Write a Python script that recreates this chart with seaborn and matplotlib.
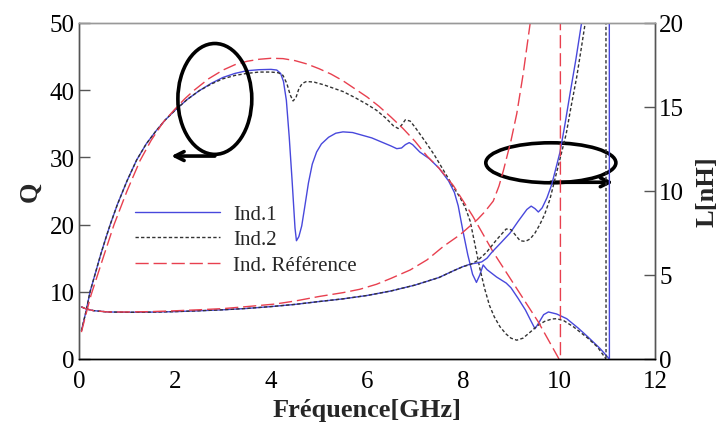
import matplotlib
matplotlib.use("Agg")
import matplotlib.pyplot as plt
from matplotlib.patches import Ellipse
import seaborn as sns

# ---------------- data ----------------
# Q factor (left axis)
f_q1 = [0.05, 0.15, 0.23, 0.35, 0.45, 0.55, 0.65, 0.8, 1.0, 1.2, 1.4, 1.6, 1.8, 2.0, 2.25, 2.5,
        2.75, 3.0, 3.25, 3.5, 3.75, 4.0, 4.12, 4.2, 4.26, 4.32, 4.38, 4.44, 4.5, 4.53, 4.58, 4.64,
        4.7, 4.78, 4.86, 4.95, 5.05, 5.2, 5.35, 5.5, 5.7, 5.9, 6.1, 6.3, 6.5, 6.62, 6.72, 6.8,
        6.88, 6.95, 7.1, 7.3, 7.5, 7.7, 7.82, 7.9, 8.0, 8.1, 8.2, 8.28, 8.35, 8.42, 8.5, 8.7,
        8.9, 9.0, 9.15, 9.3, 9.42, 9.5, 9.58, 9.68, 9.78, 9.95, 10.16, 10.4, 10.6, 10.85, 11.05]
q1 = [4.2, 7.2, 10.0, 13.0, 15.5, 17.8, 20.0, 23.0, 26.5, 29.6, 32.0, 33.9, 35.6, 37.0, 38.6, 39.9,
      41.0, 41.9, 42.5, 42.9, 43.05, 43.1, 43.0, 42.5, 41.3, 38.5, 33.0, 26.5, 19.5, 17.6, 18.2, 19.8,
      22.5, 26.2, 29.0, 30.8, 32.0, 33.0, 33.6, 33.8, 33.7, 33.3, 32.9, 32.3, 31.7, 31.3, 31.4, 31.9,
      32.2, 31.9, 30.8, 29.8, 28.4, 26.5, 24.8, 22.8, 19.0, 15.5, 12.6, 11.4, 12.5, 14.0, 13.3, 12.2,
      11.3, 10.6, 9.0, 7.3, 5.6, 4.5, 5.4, 6.6, 7.0, 6.7, 6.0, 4.6, 3.3, 1.6, 0.0]

f_q2 = [0.05, 0.15, 0.23, 0.35, 0.45, 0.55, 0.65, 0.8, 1.0, 1.2, 1.4, 1.6, 1.8, 2.0, 2.25, 2.5,
        2.75, 3.0, 3.25, 3.5, 3.75, 4.0, 4.15, 4.25, 4.33, 4.4, 4.46, 4.52, 4.58, 4.65, 4.74, 4.9,
        5.1, 5.3, 5.5, 5.75, 6.0, 6.2, 6.4, 6.55, 6.65, 6.72, 6.8, 6.9, 7.0, 7.2, 7.4, 7.6, 7.8,
        7.94, 8.05, 8.15, 8.25, 8.35, 8.45, 8.55, 8.65, 8.77, 8.9, 9.0, 9.12, 9.25, 9.4, 9.56,
        9.7, 9.85, 9.95, 10.1, 10.3, 10.6, 10.8, 10.98]
q2 = [4.2, 7.2, 10.0, 13.0, 15.5, 17.8, 20.0, 23.0, 26.5, 29.6, 32.0, 33.9, 35.6, 37.0, 38.6, 39.9,
      40.9, 41.7, 42.2, 42.5, 42.7, 42.7, 42.6, 42.2, 41.0, 39.3, 38.4, 38.9, 40.2, 41.0, 41.3, 41.2,
      40.8, 40.3, 39.8, 38.9, 37.9, 37.0, 35.8, 34.7, 34.3, 34.8, 35.6, 35.4, 34.5, 32.5, 30.4, 28.0, 25.6,
      24.0, 22.5, 20.5, 17.0, 13.5, 10.5, 8.0, 6.3, 4.8, 3.7, 3.1, 2.8, 3.1, 4.0, 5.0,
      5.6, 5.95, 6.0, 5.7, 4.8, 3.1, 1.8, 0.0]

f_qr = [0.05, 0.15, 0.25, 0.5, 0.73, 1.0, 1.27, 1.5, 1.75, 2.0, 2.2, 2.4, 2.7, 3.0, 3.25, 3.5,
        3.75, 4.0, 4.25, 4.5, 4.75, 5.0, 5.25, 5.5, 5.75, 6.0, 6.25, 6.5, 6.75, 7.0, 7.25, 7.5,
        7.8, 8.2, 8.63, 9.1, 9.57, 10.0]
qr = [4.0, 6.8, 9.5, 15.0, 20.0, 25.0, 29.5, 32.5, 35.2, 37.2, 38.7, 40.0, 41.7, 43.0, 43.8, 44.3,
      44.6, 44.75, 44.7, 44.4, 43.9, 43.2, 42.4, 41.4, 40.2, 39.0, 37.6, 36.0, 34.3, 32.4, 30.2, 28.4,
      25.8, 21.3, 15.9, 10.7, 5.5, 0.0]

# Inductance (right axis)
f_l1 = [0.05, 0.15, 0.3, 0.6, 1.0, 1.5, 2.0, 2.5, 3.0, 3.5, 4.0, 4.5, 5.0, 5.5, 6.0, 6.5, 7.0,
        7.5, 7.8, 8.0, 8.15, 8.3, 8.39, 8.5, 8.6, 8.8, 8.98, 9.15, 9.33, 9.42, 9.5, 9.57, 9.65,
        9.75, 9.85, 10.02, 10.12, 10.23, 10.35, 10.47, 10.75, 11.045, 11.055]
l1 = [3.1, 2.98, 2.88, 2.8, 2.78, 2.79, 2.82, 2.87, 2.93, 3.01, 3.12, 3.25, 3.42, 3.58, 3.78, 4.05, 4.4,
      4.85, 5.25, 5.5, 5.65, 5.72, 5.78, 6.0, 6.35, 6.95, 7.5, 8.2, 8.9, 9.1, 8.95, 8.75, 9.0,
      9.6, 10.4, 12.3, 13.9, 15.8, 17.8, 20.0, 26.0, 60.0, -60.0]

f_l2 = [0.05, 0.15, 0.3, 0.6, 1.0, 1.5, 2.0, 2.5, 3.0, 3.5, 4.0, 4.5, 5.0, 5.5, 6.0, 6.5, 7.0,
        7.5, 7.8, 8.0, 8.15, 8.3, 8.49, 8.7, 8.9, 9.0, 9.1, 9.19, 9.3, 9.4, 9.5, 9.6, 9.7, 9.81,
        10.02, 10.15, 10.25, 10.37, 10.47, 10.6, 10.975, 10.985]
l2 = [3.1, 2.98, 2.88, 2.8, 2.78, 2.79, 2.82, 2.87, 2.93, 3.01, 3.12, 3.25, 3.42, 3.58, 3.78, 4.05, 4.4,
      4.85, 5.25, 5.5, 5.62, 5.85, 6.35, 7.1, 7.74, 7.7, 7.35, 7.04, 7.0, 7.15, 7.5, 8.0, 8.6, 9.5,
      11.9, 13.4, 15.0, 16.8, 18.6, 21.0, 60.0, -60.0]

f_lr = [0.05, 0.15, 0.3, 0.6, 1.0, 1.5, 2.0, 2.5, 3.0, 3.5, 4.08, 4.5, 5.0, 5.5, 5.85, 6.2, 6.5,
        6.9, 7.25, 7.59, 7.94, 8.3, 8.45, 8.63, 8.75, 8.84, 9.0, 9.12, 9.25, 9.4, 9.7, 10.025, 10.035]
lr = [3.1, 2.98, 2.88, 2.8, 2.8, 2.82, 2.87, 2.93, 3.0, 3.12, 3.27, 3.45, 3.72, 3.95, 4.15, 4.45, 4.8,
      5.3, 5.9, 6.7, 7.4, 8.3, 8.75, 9.4, 10.3, 11.2, 13.0, 14.6, 16.9, 20.0, 30.0, 80.0, -80.0]

labels = ["Ind.1", "Ind.2", "Ind. Référence"]
x_ticks = [0, 2, 4, 6, 8, 10, 12]
q_ticks = [0, 10, 20, 30, 40, 50]
l_ticks = [0, 5, 10, 15, 20]

# ---------------- style ----------------
sns.set_theme(style="white")
plt.rcParams["font.family"] = ["Liberation Serif", "DejaVu Serif"]
plt.rcParams["xtick.direction"] = "in"
plt.rcParams["ytick.direction"] = "in"

c_blue = "#4848dc"
c_black = "#333333"
c_red = "#e8404f"
ls_blue = "-"
ls_black = (0, (2.4, 1.6))
ls_red = (0, (9.5, 3.5))

fig = plt.figure(figsize=(7.28, 4.39), dpi=100)
ax = fig.add_axes([79 / 728, 1 - 360 / 439, 576 / 728, 336 / 439])
ax2 = ax.twinx()

# Q curves
sns.lineplot(x=f_q1, y=q1, ax=ax, color=c_blue, linestyle=ls_blue, lw=1.0,
             estimator=None, sort=False, label=labels[0])
sns.lineplot(x=f_q2, y=q2, ax=ax, color=c_black, linestyle=ls_black, lw=1.0,
             estimator=None, sort=False, label=labels[1])
sns.lineplot(x=f_qr, y=qr, ax=ax, color=c_red, linestyle=ls_red, lw=1.0,
             estimator=None, sort=False, label=labels[2])

# L curves
sns.lineplot(x=f_l1, y=l1, ax=ax2, color=c_blue, linestyle=ls_blue, lw=1.0,
             estimator=None, sort=False, legend=False)
sns.lineplot(x=f_l2, y=l2, ax=ax2, color=c_black, linestyle=ls_black, lw=1.0,
             estimator=None, sort=False, legend=False)
sns.lineplot(x=f_lr, y=lr, ax=ax2, color=c_red, linestyle=ls_red, lw=1.0,
             estimator=None, sort=False, legend=False)

ax.set_xlim(0, 12)
ax.set_ylim(0, 50)
ax2.set_ylim(0, 20)
ax.set_xticks(x_ticks)
ax.set_yticks(q_ticks)
ax2.set_yticks(l_ticks)

tick_font = 18
ax.tick_params(axis="both", which="major", labelsize=tick_font, length=8, width=1,
               color="#555555", labelcolor="black")
ax.tick_params(axis="x", pad=8)
ax.tick_params(axis="y", pad=3)
ax2.tick_params(axis="y", which="major", labelsize=tick_font, length=8, width=1,
                color="#555555", pad=3, labelcolor="black", direction="in")

for a in (ax, ax2):
    a.spines["left"].set_color("#555555")
    a.spines["right"].set_color("#555555")
    a.spines["top"].set_color("#999999")
    a.spines["bottom"].set_color("black")
    for s in a.spines.values():
        s.set_linewidth(1.0)
        s.set_visible(True)

ax.set_xlabel("Fréquence[GHz]", fontsize=19, fontweight="bold", labelpad=4)
ax.set_ylabel("Q", fontsize=19, fontweight="bold", labelpad=6)
ax2.set_ylabel("L[nH]", fontsize=19, fontweight="bold", labelpad=8)

# legend
ax.legend(loc="upper left", bbox_to_anchor=(0.097, 0.46), frameon=False, fontsize=15,
          handlelength=4.1, handletextpad=0.6, labelspacing=0.28, borderpad=0,
          borderaxespad=0)

# annotations: ellipses with arrows
ax.add_patch(Ellipse((2.83, 38.7), width=1.54, height=16.5, fill=False, lw=2.6,
                     edgecolor="black", zorder=5))
ax.annotate("", xy=(1.92, 30.2), xytext=(2.83, 30.2),
            arrowprops=dict(arrowstyle="->", lw=2.6, color="black", shrinkA=0, shrinkB=0,
                            mutation_scale=16), zorder=5)
ax.add_patch(Ellipse((9.83, 29.2), width=2.71, height=5.95, fill=False, lw=2.6,
                     edgecolor="black", zorder=5))
ax.annotate("", xy=(11.13, 26.3), xytext=(9.83, 26.3),
            arrowprops=dict(arrowstyle="->", lw=2.6, color="black", shrinkA=0, shrinkB=0,
                            mutation_scale=16), zorder=5)

fig.savefig("out.png", dpi=100)
